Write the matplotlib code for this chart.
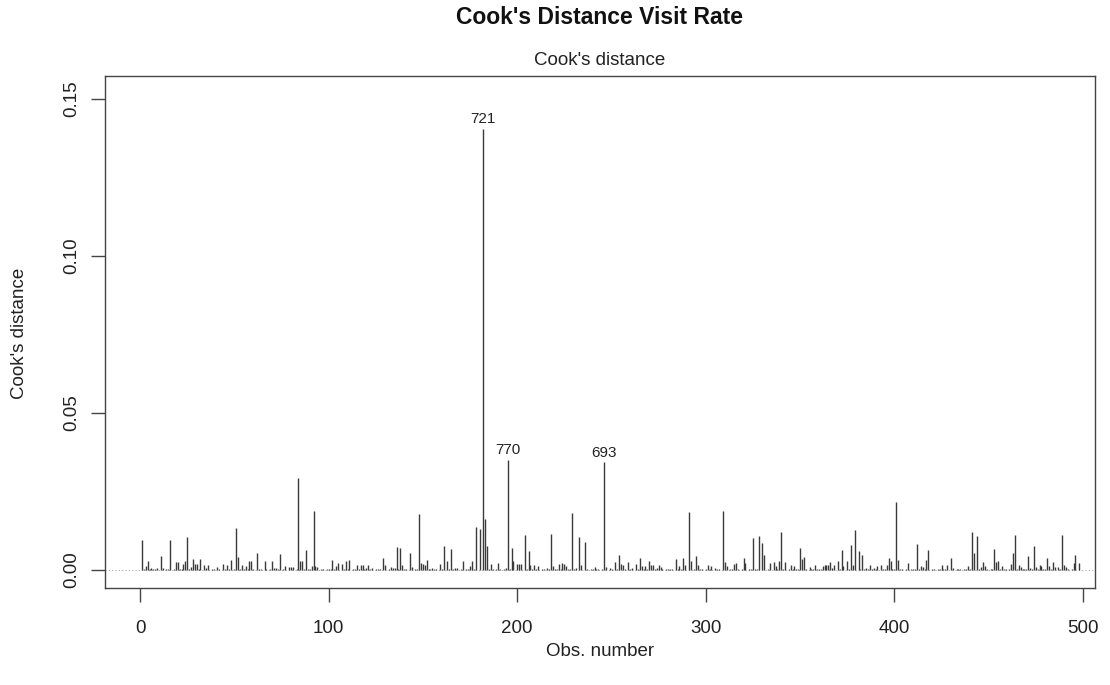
import numpy as np
import matplotlib
matplotlib.use("Agg")
import matplotlib.pyplot as plt

# Cook's distance, in units of 1e-4
n_obs = 498

# small background values for every observation
background = [
    2, 5, 1, 3, 2, 1, 4, 2, 3, 1, 2, 6, 1, 3, 2, 4, 1, 2, 5, 1,
    3, 2, 4, 1, 2, 3, 1, 5, 2, 1, 3, 4, 1, 2, 6, 2, 1, 3, 2, 1,
    4, 2, 1, 3, 5, 1, 2, 4, 1, 3, 2, 1, 5, 2, 3, 1, 4, 2, 1, 3,
    1, 3, 2, 5, 1, 2, 4, 1, 3, 2, 6, 1, 2, 3, 1, 4, 2, 1, 5, 2,
    2, 1, 4, 3, 1, 2, 5, 1, 3, 2, 1, 4, 2, 6, 1, 3, 2, 1, 4, 2,
    3, 1, 2, 5, 2, 1, 3, 4, 1, 2, 3, 1, 5, 2, 1, 4, 3, 1, 2, 6,
    1, 4, 2, 1, 3, 2, 5, 1, 2, 3, 1, 4, 2, 1, 6, 2, 3, 1, 2, 4,
    2, 1, 3, 5, 1, 2, 4, 1, 3, 2, 1, 5, 2, 3, 1, 2, 4, 1, 3, 2,
    5, 1, 2, 3, 1, 4, 2, 6, 1, 3, 2, 1, 4, 2, 3, 1, 5, 2, 1, 3,
    1, 2, 4, 1, 3, 5, 2, 1, 2, 4, 3, 1, 2, 6, 1, 3, 2, 4, 1, 2,
    3, 2, 1, 4, 2, 1, 5, 3, 1, 2, 4, 1, 2, 3, 1, 6, 2, 1, 3, 4,
    2, 1, 3, 2, 5, 1, 4, 2, 1, 3, 2, 1, 4, 5, 1, 2, 3, 1, 2, 4,
    1, 5, 2, 1, 3, 2, 4, 1, 6, 2, 1, 3, 2, 4, 1, 2, 5, 1, 3, 2,
    4, 1, 2, 3, 1, 5, 2, 1, 4, 2, 3, 1, 2, 6, 1, 4, 2, 1, 3, 2,
    2, 3, 1, 4, 2, 1, 5, 2, 3, 1, 4, 2, 1, 3, 5, 1, 2, 4, 1, 3,
    1, 2, 5, 1, 3, 2, 4, 1, 2, 3, 6, 1, 2, 4, 1, 3, 2, 1, 5, 2,
    3, 1, 4, 2, 1, 3, 2, 5, 1, 2, 4, 1, 3, 2, 1, 6, 2, 3, 1, 4,
    2, 4, 1, 3, 5, 2, 1, 4, 2, 3, 1, 2, 5, 1, 3, 4, 2, 1, 3, 2,
    5, 2, 3, 1, 4, 2, 6, 3, 1, 5, 2, 4, 3, 1, 2, 5, 3, 2, 4, 1,
    3, 4, 2, 5, 1, 3, 2, 4, 6, 2, 3, 1, 4, 2, 5, 3, 1, 2, 4, 3,
    1, 3, 2, 4, 1, 5, 2, 1, 3, 2, 4, 1, 2, 3, 1, 5, 2, 4, 1, 2,
    3, 1, 2, 5, 1, 4, 2, 3, 1, 2, 6, 1, 3, 2, 4, 1, 2, 5, 1, 3,
    2, 4, 1, 3, 2, 1, 5, 2, 4, 1, 3, 2, 1, 4, 2, 5, 1, 3, 2, 1,
    4, 2, 3, 1, 5, 2, 1, 3, 4, 2, 1, 6, 2, 3, 1, 4, 2, 1, 3, 2,
    5, 1, 3, 2, 4, 1, 2, 3, 1, 5, 2, 4, 1, 3, 2, 4, 1, 3,
]

# the bars that stand out from the background
peak_obs = [
    1, 3, 4, 6, 9, 11, 16, 19, 20, 23, 24, 25, 27, 28, 29, 30, 32, 34, 36, 41,
    44, 46, 48, 51, 52, 54, 56, 58, 59, 62, 64, 66, 70, 72, 74, 77, 79, 80, 81, 84,
    85, 86, 88, 91, 92, 93, 94, 102, 104, 105, 107, 109, 111, 115, 117, 118, 121, 123, 129, 130,
    133, 134, 136, 138, 139, 143, 144, 148, 149, 150, 151, 152, 155, 159, 161, 163, 165, 167, 168, 171,
    175, 176, 178, 180, 182, 183, 184, 186, 190, 195, 197, 198, 200, 201, 202, 204, 206, 207, 209, 211,
    218, 219, 222, 224, 225, 226, 229, 231, 233, 234, 236, 241, 246, 247, 252, 254, 255, 256, 259, 261,
    263, 265, 266, 268, 270, 271, 272, 275, 276, 284, 286, 288, 289, 291, 292, 295, 296, 301, 303, 305,
    309, 310, 311, 315, 316, 320, 321, 325, 328, 330, 331, 334, 336, 337, 339, 340, 342, 345, 347, 350,
    351, 352, 355, 358, 362, 363, 364, 365, 366, 368, 370, 372, 373, 375, 377, 378, 379, 381, 383, 385,
    387, 391, 393, 396, 397, 398, 401, 402, 407, 412, 414, 415, 417, 418, 425, 428, 430, 439, 441, 442,
    444, 446, 447, 448, 453, 454, 455, 457, 462, 463, 464, 466, 467, 471, 474, 475, 477, 478, 481, 482,
    484, 485, 487, 489, 490, 491, 495, 496, 498,
]
peak_vals = [
    96, 13, 30, 8, 8, 44, 96, 27, 27, 19, 30, 104, 10, 34, 19, 19, 34, 15, 15, 10,
    19, 15, 32, 135, 42, 16, 14, 28, 28, 55, 5, 28, 28, 8, 50, 13, 10, 10, 10, 294,
    29, 29, 64, 14, 189, 14, 10, 32, 13, 23, 19, 30, 32, 15, 15, 15, 15, 8, 38, 17,
    10, 8, 72, 69, 15, 53, 10, 180, 23, 19, 17, 32, 8, 19, 76, 28, 66, 8, 8, 30,
    13, 30, 136, 130, 1405, 164, 76, 19, 23, 352, 71, 29, 19, 19, 19, 111, 60, 15, 15, 13,
    115, 13, 19, 23, 19, 14, 183, 8, 104, 15, 90, 10, 344, 10, 27, 47, 18, 17, 27, 8,
    19, 40, 13, 13, 30, 15, 17, 15, 10, 34, 14, 38, 17, 185, 29, 44, 15, 15, 13, 8,
    188, 27, 13, 19, 21, 40, 23, 101, 109, 85, 48, 21, 27, 14, 30, 120, 25, 17, 13, 71,
    34, 42, 10, 15, 13, 17, 17, 17, 27, 17, 28, 63, 13, 30, 80, 15, 127, 60, 47, 8,
    15, 13, 17, 15, 40, 30, 216, 32, 21, 83, 13, 10, 32, 65, 15, 15, 40, 14, 120, 55,
    107, 10, 25, 13, 67, 27, 30, 14, 18, 55, 111, 15, 10, 46, 76, 10, 15, 14, 37, 14,
    27, 10, 10, 111, 15, 10, 24, 47, 24,
]

label_obs = [182, 195, 246]
label_text = ["721", "770", "693"]

cooks = np.array(background[:n_obs], dtype=float)
cooks[np.array(peak_obs) - 1] = peak_vals
cooks = cooks * 1e-4
obs = np.arange(1, n_obs + 1)

plt.rcParams['font.family'] = ['Liberation Sans', 'DejaVu Sans']

W, H = 1110, 685
fig = plt.figure(figsize=(W / 100, H / 100), dpi=100)
ax = fig.add_axes([105 / W, 1 - 588 / H, 990 / W, 512 / H])

ax.axhline(0, color='#aaaaaa', lw=0.8, ls=(0, (1, 2)), zorder=1)
ax.vlines(obs, 0, cooks, colors='#3a3a3a', lw=1.0, zorder=2)

for o, t in zip(label_obs, label_text):
    ax.text(o, cooks[o - 1] + 0.0008, t, ha='center', va='bottom',
            fontsize=11, color='#222222')

ax.set_xlim(-18.6, 506.4)
ax.set_ylim(-0.0057, 0.1573)
ax.set_xticks([0, 100, 200, 300, 400, 500])
ax.set_yticks([0.0, 0.05, 0.10, 0.15])
ax.set_yticklabels(['0.00', '0.05', '0.10', '0.15'], rotation=90, va='center')
ax.tick_params(axis='both', direction='out', length=10, width=1,
               color='#444444', labelsize=13.5, labelcolor='#222222')
ax.tick_params(axis='x', pad=13)
ax.tick_params(axis='y', pad=8)

for s in ax.spines.values():
    s.set_color('#444444')
    s.set_linewidth(1.0)

fig.text(600 / W, 1 - 652 / H, "Obs. number", ha='center', va='center',
         fontsize=13.5, color='#222222')
fig.text(20 / W, 1 - 333 / H, "Cook's distance", ha='center', va='center',
         rotation=90, fontsize=13.5, color='#222222')
ax.set_title("Cook's distance", fontsize=13.5, color='#222222', pad=8)
fig.text(600 / W, 1 - 17 / H, "Cook's Distance Visit Rate", ha='center',
         va='center', fontsize=16.5, fontweight='bold', color='#111111')

fig.savefig("out.png", dpi=100)
